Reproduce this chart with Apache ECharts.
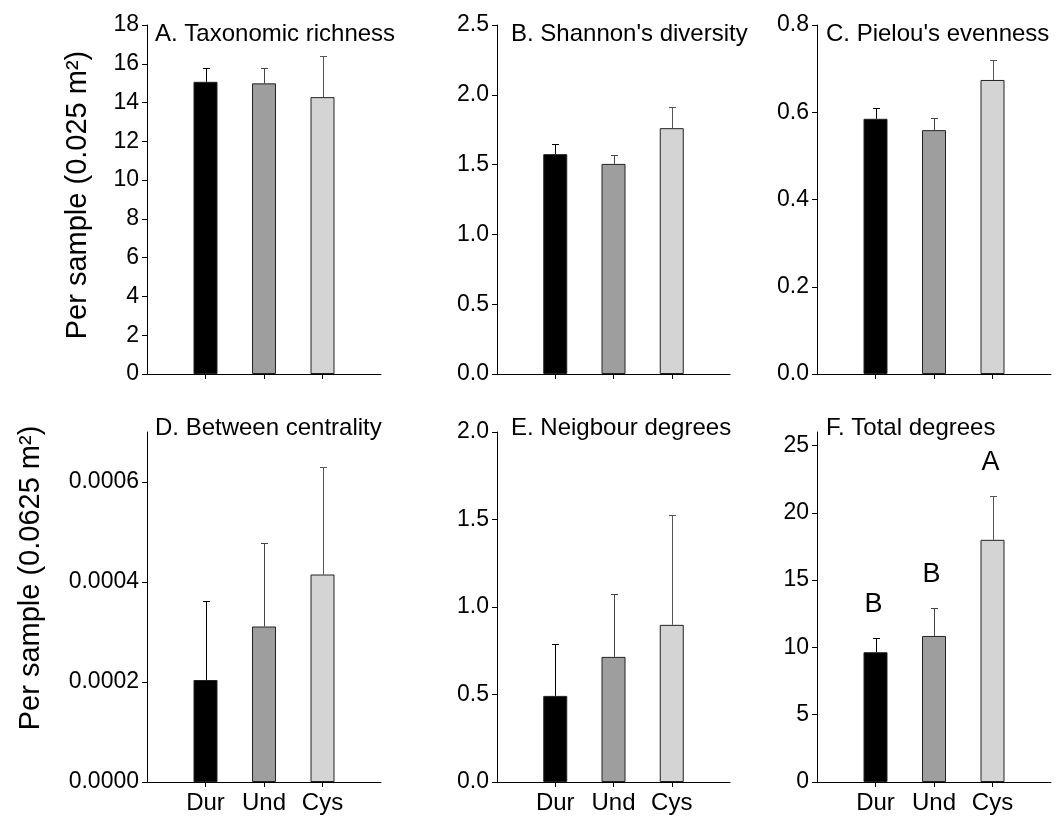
<!DOCTYPE html>
<html>
<head>
<meta charset="utf-8">
<title>Per sample metrics</title>
<script src="https://cdn.jsdelivr.net/npm/echarts@6/dist/echarts.min.js"></script>
<style>
  html, body { margin: 0; padding: 0; background: #fff; }
  #main { width: 1058px; height: 822px; }
</style>
</head>
<body>
<div id="main"></div>
<script>
// categories (blank slots at both ends give the empty margins of the plots)
var groups = ['', 'Dur', 'Und', 'Cys', ''];
var barColors = ['#000000', '#9e9e9e', '#d4d4d4'];
var errColors = ['#000000', '#444444', '#555555'];

// A. Taxonomic richness
var richMean = [15.07, 14.99, 14.28];
var richSE = [0.70, 0.81, 2.10];
var richTicks = [0, 2, 4, 6, 8, 10, 12, 14, 16, 18];
// B. Shannon's diversity
var shanMean = [1.575, 1.505, 1.761];
var shanSE = [0.074, 0.063, 0.152];
var shanTicks = [0, 0.5, 1.0, 1.5, 2.0, 2.5];
// C. Pielou's evenness
var pielMean = [0.585, 0.559, 0.674];
var pielSE = [0.024, 0.027, 0.046];
var pielTicks = [0, 0.2, 0.4, 0.6, 0.8];
// D. Between centrality
var betwMean = [0.000204, 0.000311, 0.000415];
var betwSE = [0.000159, 0.000167, 0.000216];
var betwTicks = [0, 0.0002, 0.0004, 0.0006];
// E. Neigbour degrees
var neigMean = [0.492, 0.715, 0.898];
var neigSE = [0.297, 0.360, 0.627];
var neigTicks = [0, 0.5, 1.0, 1.5, 2.0];
// F. Total degrees
var totMean = [9.64, 10.85, 17.99];
var totSE = [1.09, 2.05, 3.27];
var totTicks = [0, 5, 10, 15, 20, 25];
var totLetters = ['B', 'B', 'A'];

var FONT = '"Liberation Sans", Arial, sans-serif';

var panels = [
  { title: 'A. Taxonomic richness', mean: richMean, se: richSE, ticks: richTicks, max: 18, dec: 0 },
  { title: "B. Shannon's diversity", mean: shanMean, se: shanSE, ticks: shanTicks, max: 2.5, dec: 1 },
  { title: "C. Pielou's evenness", mean: pielMean, se: pielSE, ticks: pielTicks, max: 0.8, dec: 1 },
  { title: 'D. Between centrality', mean: betwMean, se: betwSE, ticks: betwTicks, max: 0.0007, dec: 4 },
  { title: 'E. Neigbour degrees', mean: neigMean, se: neigSE, ticks: neigTicks, max: 2.0, dec: 1 },
  { title: 'F. Total degrees', mean: totMean, se: totSE, ticks: totTicks, max: 26, dec: 0, letters: totLetters }
];

// layout of the 2 x 3 panels
var colLeft = [147, 497, 817];
var colWidth = [234, 233, 234];
var rowTop = [25, 432];
var rowHeight = [349, 350];
var titleX = [155, 511, 826];
var titleY = [34, 428];

var chart = echarts.init(document.getElementById('main'), null, { renderer: 'canvas' });

var grids = [], xAxes = [], yAxes = [], series = [], graphics = [];

panels.forEach(function (p, i) {
  var row = Math.floor(i / 3), col = i % 3;

  grids.push({
    left: colLeft[col], top: rowTop[row],
    width: colWidth[col], height: rowHeight[row],
    outerBoundsMode: 'none',
    containLabel: false
  });

  xAxes.push({
    type: 'category',
    gridIndex: i,
    data: groups,
    boundaryGap: false,
    axisLine: { show: true, lineStyle: { color: '#000', width: 1 } },
    axisTick: {
      show: true, length: 5,
      interval: function (idx) { return idx >= 1 && idx <= 3; },
      lineStyle: { color: '#000' }
    },
    axisLabel: {
      show: row === 1, interval: 0, margin: 9,
      fontSize: 24, color: '#000', fontFamily: FONT
    },
    splitLine: { show: false }
  });

  yAxes.push({
    type: 'value',
    gridIndex: i,
    min: 0, max: p.max,
    axisLine: { show: true, lineStyle: { color: '#000', width: 1 } },
    axisTick: { show: true, length: 5, customValues: p.ticks, lineStyle: { color: '#000' } },
    axisLabel: {
      customValues: p.ticks, margin: 8,
      fontSize: 23, color: '#000', fontFamily: FONT,
      formatter: (function (d) { return function (v) { return v.toFixed(d); }; })(p.dec)
    },
    splitLine: { show: false }
  });

  // bars
  var barData = ['-'];
  p.mean.forEach(function (m, j) {
    barData.push({
      value: m,
      itemStyle: { color: barColors[j], borderColor: '#222', borderWidth: 1 }
    });
  });
  barData.push('-');
  series.push({
    type: 'bar', xAxisIndex: i, yAxisIndex: i,
    data: barData, barWidth: 24, silent: true, z: 2
  });

  // upper error bars (+ letters)
  var errData = p.mean.map(function (m, j) { return [j + 1, m, m + p.se[j]]; });
  series.push({
    type: 'custom', xAxisIndex: i, yAxisIndex: i, z: 3, silent: true,
    data: errData,
    renderItem: (function (pp) {
      return function (params, api) {
        var x = api.value(0);
        var lo = api.coord([x, api.value(1)]);
        var hi = api.coord([x, api.value(2)]);
        var c = errColors[params.dataIndex];
        var cx = Math.round(hi[0]) + 0.5;
        var ty = Math.round(hi[1]) + 0.5;
        var children = [
          { type: 'line', shape: { x1: cx, y1: lo[1], x2: cx, y2: ty }, style: { stroke: c, lineWidth: 1 } },
          { type: 'line', shape: { x1: cx - 3.5, y1: ty, x2: cx + 3.5, y2: ty }, style: { stroke: c, lineWidth: 1 } }
        ];
        if (pp.letters) {
          children.push({
            type: 'text', x: cx - 3, y: ty - 20,
            style: {
              text: pp.letters[params.dataIndex], fill: '#000',
              font: '27px ' + FONT, textAlign: 'center', textVerticalAlign: 'bottom'
            }
          });
        }
        return { type: 'group', children: children };
      };
    })(p)
  });

  // panel title
  graphics.push({
    type: 'text', x: titleX[col], y: titleY[row],
    style: {
      text: p.title, fill: '#000', font: '24px ' + FONT,
      textAlign: 'left', textVerticalAlign: 'middle'
    }
  });
});

// y axis names
graphics.push({
  type: 'text', x: 78, y: 195, rotation: Math.PI / 2,
  style: { text: 'Per sample (0.025 m²)', fill: '#000', font: '29px ' + FONT, textAlign: 'center', textVerticalAlign: 'middle' }
});
graphics.push({
  type: 'text', x: 31, y: 578, rotation: Math.PI / 2,
  style: { text: 'Per sample (0.0625 m²)', fill: '#000', font: '29px ' + FONT, textAlign: 'center', textVerticalAlign: 'middle' }
});

chart.setOption({
  backgroundColor: '#fff',
  animation: false,
  grid: grids,
  xAxis: xAxes,
  yAxis: yAxes,
  series: series,
  graphic: graphics
});
</script>
</body>
</html>
